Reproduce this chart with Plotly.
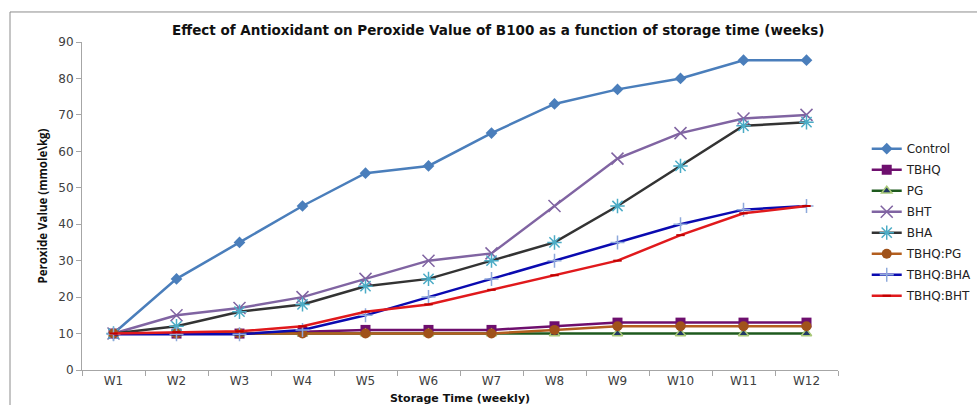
import plotly.graph_objects as go

weeks = ["W1", "W2", "W3", "W4", "W5", "W6", "W7", "W8", "W9", "W10", "W11", "W12"]

control = [10, 25, 35, 45, 54, 56, 65, 73, 77, 80, 85, 85]
tbhq = [10, 10, 10, 10.5, 11, 11, 11, 12, 13, 13, 13, 13]
pg = [10, 10, 10, 10, 10, 10, 10, 10, 10, 10, 10, 10]
bht = [10, 15, 17, 20, 25, 30, 32, 45, 58, 65, 69, 70]
bha = [10, 12, 16, 18, 23, 25, 30, 35, 45, 56, 67, 68]
tbhq_pg = [10, 10, 10, 10, 10, 10, 10, 11, 12, 12, 12, 12]
tbhq_bha = [9.8, 9.8, 9.8, 11, 15, 20, 25, 30, 35, 40, 44, 45]
tbhq_bht = [10, 10.4, 10.6, 12, 16, 18, 22, 26, 30, 37, 43, 45]

series = [
    ("Control", control, "#4A7EBB", dict(symbol="diamond", size=9, color="#4A7EBB")),
    ("TBHQ", tbhq, "#6E0F6E", dict(symbol="square", size=10, color="#6E0F6E")),
    ("PG", pg, "#1E5A1E", dict(symbol="triangle-up", size=9, color="#1F3864",
                               line=dict(color="#A8C878", width=1.5))),
    ("BHT", bht, "#8064A2", dict(symbol="x-thin-open", size=12, color="#8064A2",
                                 line=dict(width=1.5))),
    ("BHA", bha, "#333333", dict(symbol="asterisk-open", size=12, color="#4BACC6",
                                 line=dict(width=1.5))),
    ("TBHQ:PG", tbhq_pg, "#B35E1E", dict(symbol="circle", size=10, color="#A0521A")),
    ("TBHQ:BHA", tbhq_bha, "#0A0AB0", dict(symbol="cross-thin-open", size=10, color="#8EA9DB",
                                           line=dict(width=1.5))),
    ("TBHQ:BHT", tbhq_bht, "#E0191C", dict(symbol="line-ew-open", size=6, color="#C00000",
                                           line=dict(width=2))),
]

fig = go.Figure()
for name, vals, lc, mk in series:
    fig.add_trace(go.Scatter(
        x=weeks, y=vals, name=name, legendgroup=name, mode="lines+markers",
        line=dict(color=lc, width=2.5), marker=mk,
    ))

axis_grey = "#A6A6A6"
base_font = "DejaVu Sans, sans-serif"
fig.update_layout(
    width=977, height=405,
    margin=dict(l=82, r=139, t=42, b=35, autoexpand=False),
    paper_bgcolor="white", plot_bgcolor="white",
    font=dict(family=base_font, color="#404040", size=12),
    title=dict(
        text="<b>Effect of Antioxidant on Peroxide Value of B100 as a function of storage time (weeks)</b>",
        x=0.51, xref="container", xanchor="center",
        y=1 - 30 / 405, yref="container", yanchor="middle",
        font=dict(size=13.5, color="#111111", family=base_font),
    ),
    xaxis=dict(
        type="category", range=[-0.5, len(weeks) - 0.5],
        showgrid=False, zeroline=False,
        showline=True, linecolor=axis_grey, linewidth=1,
        ticks="outside", tickson="boundaries", ticklen=5, tickcolor=axis_grey,
        tickfont=dict(size=12, color="#404040"),
        title=dict(text="<b>Storage Time (weekly)</b>", standoff=6,
                   font=dict(size=11, color="#111111")),
    ),
    yaxis=dict(
        range=[0, 90], dtick=10, showgrid=False, zeroline=False,
        showline=True, linecolor=axis_grey, linewidth=1,
        ticks="outside", ticklen=5, tickcolor=axis_grey,
        tickfont=dict(size=12, color="#404040"),
        title=dict(text="<b>Peroxide Value (mmole\\kg)</b>", standoff=8,
                   font=dict(size=11.5, color="#111111",
                             family="Liberation Sans Narrow, Open Sans, sans-serif")),
    ),
    legend=dict(
        x=1.038, xanchor="left", y=0.719, yanchor="top",
        bgcolor="rgba(0,0,0,0)", borderwidth=0,
        font=dict(size=12, color="#222222"),
        tracegroupgap=2,
    ),
    showlegend=True,
)

# outer chart frame
fig.add_shape(type="rect", xref="paper", yref="paper",
              x0=(10 - 82) / 756, x1=1.3, y0=-0.3, y1=(369.7 - 12) / 327.7,
              line=dict(color="#8C8C8C", width=1), fillcolor="rgba(0,0,0,0)", layer="below")

fig.write_html("out.html")
